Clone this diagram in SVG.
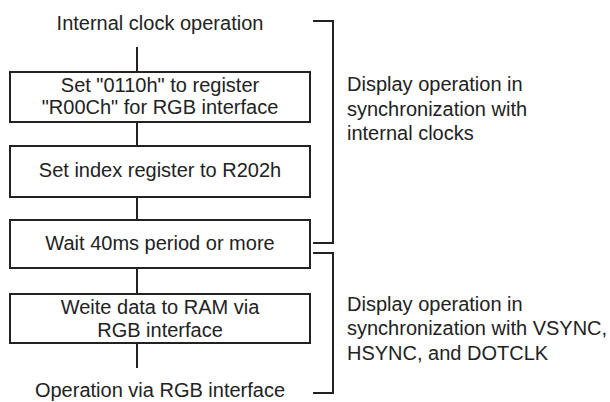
<svg xmlns="http://www.w3.org/2000/svg" width="610" height="402" viewBox="0 0 610 402">
<style>
text{font-family:"Liberation Sans",Arial,sans-serif;font-size:20px;fill:#222}
.c{text-anchor:middle}
.box{fill:#fff;stroke:#222;stroke-width:2}
.ln{fill:none;stroke:#222;stroke-width:2}
</style>
<rect width="610" height="402" fill="#fff"/>
<g id="connectors">
<line class="ln" x1="137" y1="47" x2="137" y2="72"/>
<line class="ln" x1="137" y1="122" x2="137" y2="146"/>
<line class="ln" x1="137" y1="197" x2="137" y2="220"/>
<line class="ln" x1="137" y1="268" x2="137" y2="294"/>
<line class="ln" x1="137" y1="343" x2="137" y2="368"/>
</g>
<g id="start"><text class="c" x="160" y="30">Internal clock operation</text></g>
<g id="step1">
<rect class="box" x="10" y="72" width="300" height="50"/>
<text class="c" x="160" y="92">Set "0110h" to register</text>
<text class="c" x="160" y="114">"R00Ch" for RGB interface</text>
</g>
<g id="step2">
<rect class="box" x="10" y="146" width="300" height="51"/>
<text class="c" x="160" y="177">Set index register to R202h</text>
</g>
<g id="step3">
<rect class="box" x="10" y="220" width="300" height="48"/>
<text class="c" x="160" y="250">Wait 40ms period or more</text>
</g>
<g id="step4">
<rect class="box" x="10" y="294" width="300" height="49"/>
<text class="c" x="160" y="314">Weite data to RAM via</text>
<text class="c" x="160" y="337">RGB interface</text>
</g>
<g id="end"><text class="c" x="160" y="397">Operation via RGB interface</text></g>
<g id="bracket1">
<polyline class="ln" points="313,21 333,21 333,243 313,243"/>
<text x="347" y="91">Display operation in</text>
<text x="347" y="115.5">synchronization with</text>
<text x="347" y="140">internal clocks</text>
</g>
<g id="bracket2">
<polyline class="ln" points="313,253 333,253 333,393 313,393"/>
<text x="347" y="311">Display operation in</text>
<text x="347" y="335">synchronization with VSYNC,</text>
<text x="347" y="360">HSYNC, and DOTCLK</text>
</g>
</svg>
